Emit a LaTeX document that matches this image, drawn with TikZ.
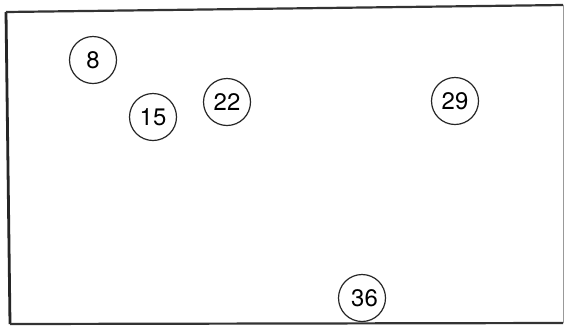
\documentclass[tikz,border=0pt]{standalone}
\usepackage{fontspec}
\setmainfont{TeX Gyre Heros}
\begin{document}
\begin{tikzpicture}[x=1bp,y=-1bp,
  num/.style={circle,draw=black!85,line width=1.2bp,minimum size=47bp,inner sep=0pt,font=\fontsize{24}{24}\selectfont},
  frame/.style={line width=2.2bp,draw=black!80}]
\useasboundingbox (0,0) rectangle (565,326);
\fill[white] (0,0) rectangle (565,326);
\coordinate (tl) at (6,12);
\coordinate (tr) at (563,5);
\coordinate (br) at (563,323);
\coordinate (bl) at (10,324);
\draw[line width=2.8bp,draw=black!85] (tl) -- (bl);
\draw[frame] (tl) -- (tr);
\draw[frame] (bl) -- (br);
\draw[line width=0.8bp,draw=black!40] (tr) -- (br);
\node[num] (n8) at (93,60) {8};
\node[num] (n15) at (153,117) {15};
\node[num] (n22) at (227,102) {22};
\node[num] (n29) at (455,101) {29};
\node[num] (n36) at (362,298) {\hspace{5bp}36};
\end{tikzpicture}
\end{document}
